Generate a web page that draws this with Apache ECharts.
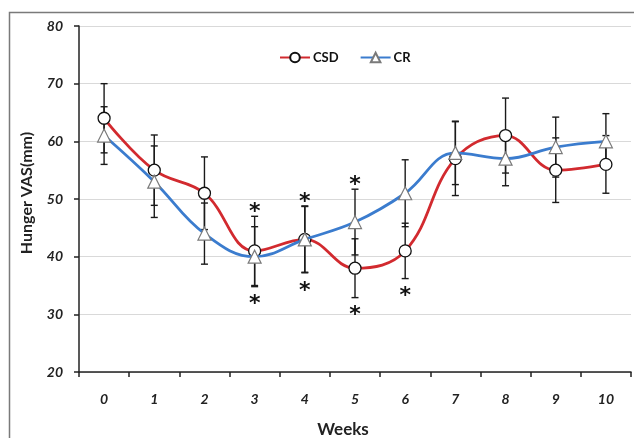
<!DOCTYPE html>
<html>
<head>
<meta charset="utf-8">
<script src="https://cdn.jsdelivr.net/npm/echarts@6/dist/echarts.min.js"></script>
<style>
html,body{margin:0;padding:0;background:#fff;}
#chart{width:634px;height:438px;}
</style>
</head>
<body>
<div id="chart"></div>
<script>
const weeks = ['0','1','2','3','4','5','6','7','8','9','10'];
const csdMean = [64, 55, 51, 41, 43, 38, 41, 57, 61, 55, 56];
const csdErr  = [6, 6.1, 6.3, 6, 5.8, 5.1, 4.8, 6.4, 6.5, 5.6, 5];
const crMean  = [61, 53, 44, 40, 43, 46, 51, 58, 57, 59, 60];
const crErr   = [5, 6.2, 5.3, 5.2, 5.7, 5.7, 5.8, 5.5, 4.7, 5.2, 4.8];
const sigAbove = [3, 4, 5];
const sigBelow = [3, 4, 5, 6];
const yTicks = { min: 20, max: 80, interval: 10 };

const RED = '#d22a2f';
const BLUE = '#3b7cce';

function errData(mean, err) {
  return mean.map((m, i) => [i, m - err[i], m + err[i]]);
}
const starData = [];
sigAbove.forEach(i => starData.push([i, Math.max(csdMean[i] + csdErr[i], crMean[i] + crErr[i]), 1]));
sigBelow.forEach(i => starData.push([i, Math.min(csdMean[i] - csdErr[i], crMean[i] - crErr[i]), -1]));

function renderErr(params, api) {
  const x = api.value(0);
  const lo = api.coord([x, api.value(1)]);
  const hi = api.coord([x, api.value(2)]);
  const w = 3.5;
  const st = { stroke: '#1a1a1a', lineWidth: 1.4 };
  return {
    type: 'group',
    children: [
      { type: 'line', shape: { x1: hi[0], y1: hi[1], x2: lo[0], y2: lo[1] }, style: st },
      { type: 'line', shape: { x1: hi[0] - w, y1: hi[1], x2: hi[0] + w, y2: hi[1] }, style: st },
      { type: 'line', shape: { x1: lo[0] - w, y1: lo[1], x2: lo[0] + w, y2: lo[1] }, style: st }
    ]
  };
}
function renderStar(params, api) {
  const x = api.value(0);
  const p = api.coord([x, api.value(1)]);
  const dir = api.value(2);
  const y = dir > 0 ? p[1] - 4 : p[1] + 18;
  return {
    type: 'text',
    x: p[0], y: y,
    style: { text: '*', font: 'bold 22px "DejaVu Sans"', fill: '#111', align: 'center', verticalAlign: 'middle' }
  };
}

const chart = echarts.init(document.getElementById('chart'), null, { renderer: 'canvas' });
chart.setOption({
  animation: false,
  backgroundColor: '#fff',
  graphic: [{
    type: 'rect', left: 7, top: 10, shape: { x: 0, y: 0, width: 640, height: 440 },
    style: { fill: 'none', stroke: '#7a7a7a', lineWidth: 1.5 }, z: -1
  }],
  grid: { left: 79, right: 3, top: 26, bottom: 66, containLabel: false, outerBoundsMode: 'none' },
  legend: {
    left: 279, top: 51, padding: 0, itemWidth: 30, itemHeight: 12, itemGap: 21,
    textStyle: { fontFamily: 'Lato', fontWeight: 'bold', fontSize: 13, color: '#111', padding: [0, 0, 0, -2] },
    data: ['CSD', 'CR']
  },
  xAxis: {
    type: 'category', data: weeks, boundaryGap: true,
    name: 'Weeks', nameLocation: 'middle', nameGap: 49,
    nameTextStyle: { fontFamily: 'Lato', fontWeight: 'bold', fontSize: 17, color: '#222', padding: [0, 24, 0, 0] },
    axisLine: { lineStyle: { color: '#222', width: 1.5 } },
    axisTick: { show: true, length: 5, inside: false, lineStyle: { color: '#222', width: 1.5 } },
    axisLabel: { margin: 20, fontFamily: 'Lato', fontStyle: 'italic', fontWeight: 'bold', fontSize: 14, color: '#222' },
    splitLine: { show: false }
  },
  yAxis: {
    type: 'value', min: yTicks.min, max: yTicks.max, interval: yTicks.interval,
    name: 'Hunger VAS(mm)', nameLocation: 'middle', nameGap: 44,
    nameTextStyle: { fontFamily: 'Lato', fontWeight: 'bold', fontSize: 16, color: '#222', padding: [0, 0, 0, 12] },
    axisLine: { show: true, lineStyle: { color: '#222', width: 1.5 } },
    axisTick: { show: true, length: 5, lineStyle: { color: '#222', width: 1.5 } },
    axisLabel: { margin: 16, fontFamily: 'Lato', fontStyle: 'italic', fontWeight: 'bold', fontSize: 14, color: '#222' },
    splitLine: { show: true, lineStyle: { color: '#d9d9d9', width: 1 } }
  },
  series: [
    { type: 'custom', name: 'csdErr', renderItem: renderErr, data: errData(csdMean, csdErr), z: 1, silent: true },
    { type: 'custom', name: 'crErr', renderItem: renderErr, data: errData(crMean, crErr), z: 1, silent: true },
    { type: 'custom', name: 'stars', renderItem: renderStar, data: starData, z: 1, silent: true },
    {
      type: 'line', name: 'CSD', data: csdMean, smooth: 0.4, z: 3,
      symbol: 'circle', symbolSize: 12, showAllSymbol: true,
      lineStyle: { color: RED, width: 2.8 },
      itemStyle: { color: '#fff', borderColor: '#111', borderWidth: 1.3 }
    },
    {
      type: 'line', name: 'CR', data: crMean, smooth: 0.4, z: 4,
      symbol: 'triangle', symbolSize: 13, showAllSymbol: true,
      lineStyle: { color: BLUE, width: 2.8 },
      itemStyle: { color: '#fff', borderColor: '#7a7a7a', borderWidth: 1.2 }
    }
  ]
});
</script>
</body>
</html>
